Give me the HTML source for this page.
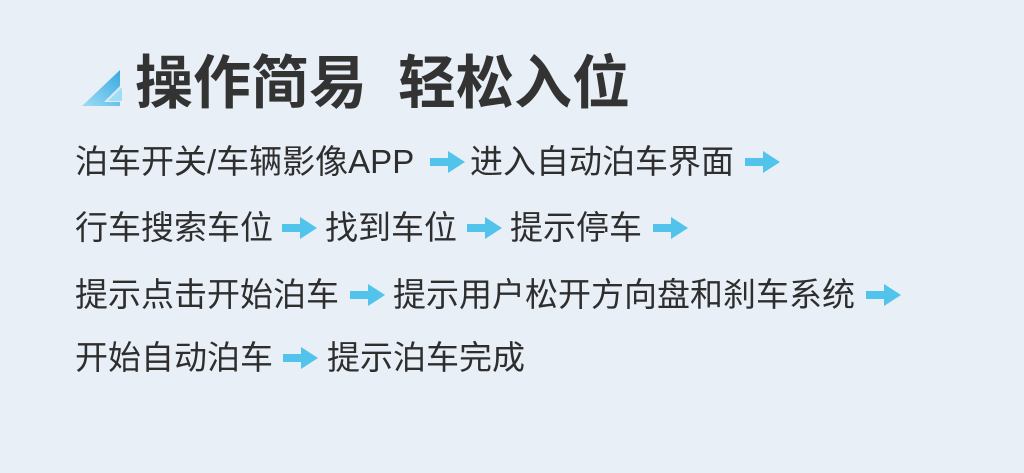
<!DOCTYPE html>
<html><head><meta charset="utf-8"><style>
body{margin:0;width:1024px;height:473px;overflow:hidden;background:#e9eff6;font-family:"Liberation Sans","Noto Sans CJK SC",sans-serif;color:#2e2e2e;position:relative}
.t{position:absolute;white-space:nowrap;font-size:33px;line-height:40px}
.h{position:absolute;top:51px;font-size:58px;font-weight:bold;line-height:66px;color:#333;white-space:nowrap}
svg.a{position:absolute;width:36px;height:24px}
</style></head><body>
<svg style="position:absolute;left:80px;top:68px" width="50" height="40" viewBox="0 0 50 40">
<defs><linearGradient id="g" x1="0" y1="1" x2="1" y2="0"><stop offset="0" stop-color="#9fdcf5"/><stop offset="1" stop-color="#3aa9df"/></linearGradient></defs>
<polygon points="2,38 40,2 40,38" fill="url(#g)"/>
<polygon points="24,34 44,14 44,34" fill="#e9eff6" opacity="0.9"/>
<polygon points="28,33 42,19 42,33" fill="#9fdcf5"/>
</svg>
<div class="h" style="left:135px">操作简易</div>
<div class="h" style="left:398px">轻松入位</div>

<div class="t" style="left:75px;top:142px">泊车开关/车辆影像APP</div>
<div class="t" style="left:470px;top:142px">进入自动泊车界面</div>
<div class="t" style="left:75px;top:208px">行车搜索车位</div>
<div class="t" style="left:325px;top:208px">找到车位</div>
<div class="t" style="left:510px;top:208px">提示停车</div>
<div class="t" style="left:75px;top:275px">提示点击开始泊车</div>
<div class="t" style="left:393px;top:275px">提示用户松开方向盘和刹车系统</div>
<div class="t" style="left:75px;top:338px">开始自动泊车</div>
<div class="t" style="left:327px;top:338px">提示泊车完成</div>

<svg width="0" height="0" style="position:absolute"><defs><g id="ar"><rect x="0" y="8" width="22" height="8" fill="#52c4ec"/><polygon points="18,1 35,12 18,23" fill="#52c4ec"/></g></defs></svg>
<svg class="a" style="left:430px;top:150px"><use href="#ar"/></svg>
<svg class="a" style="left:745px;top:150px"><use href="#ar"/></svg>
<svg class="a" style="left:282px;top:216px"><use href="#ar"/></svg>
<svg class="a" style="left:467px;top:216px"><use href="#ar"/></svg>
<svg class="a" style="left:653px;top:216px"><use href="#ar"/></svg>
<svg class="a" style="left:350px;top:283px"><use href="#ar"/></svg>
<svg class="a" style="left:866px;top:283px"><use href="#ar"/></svg>
<svg class="a" style="left:283px;top:346px"><use href="#ar"/></svg>
</body></html>
